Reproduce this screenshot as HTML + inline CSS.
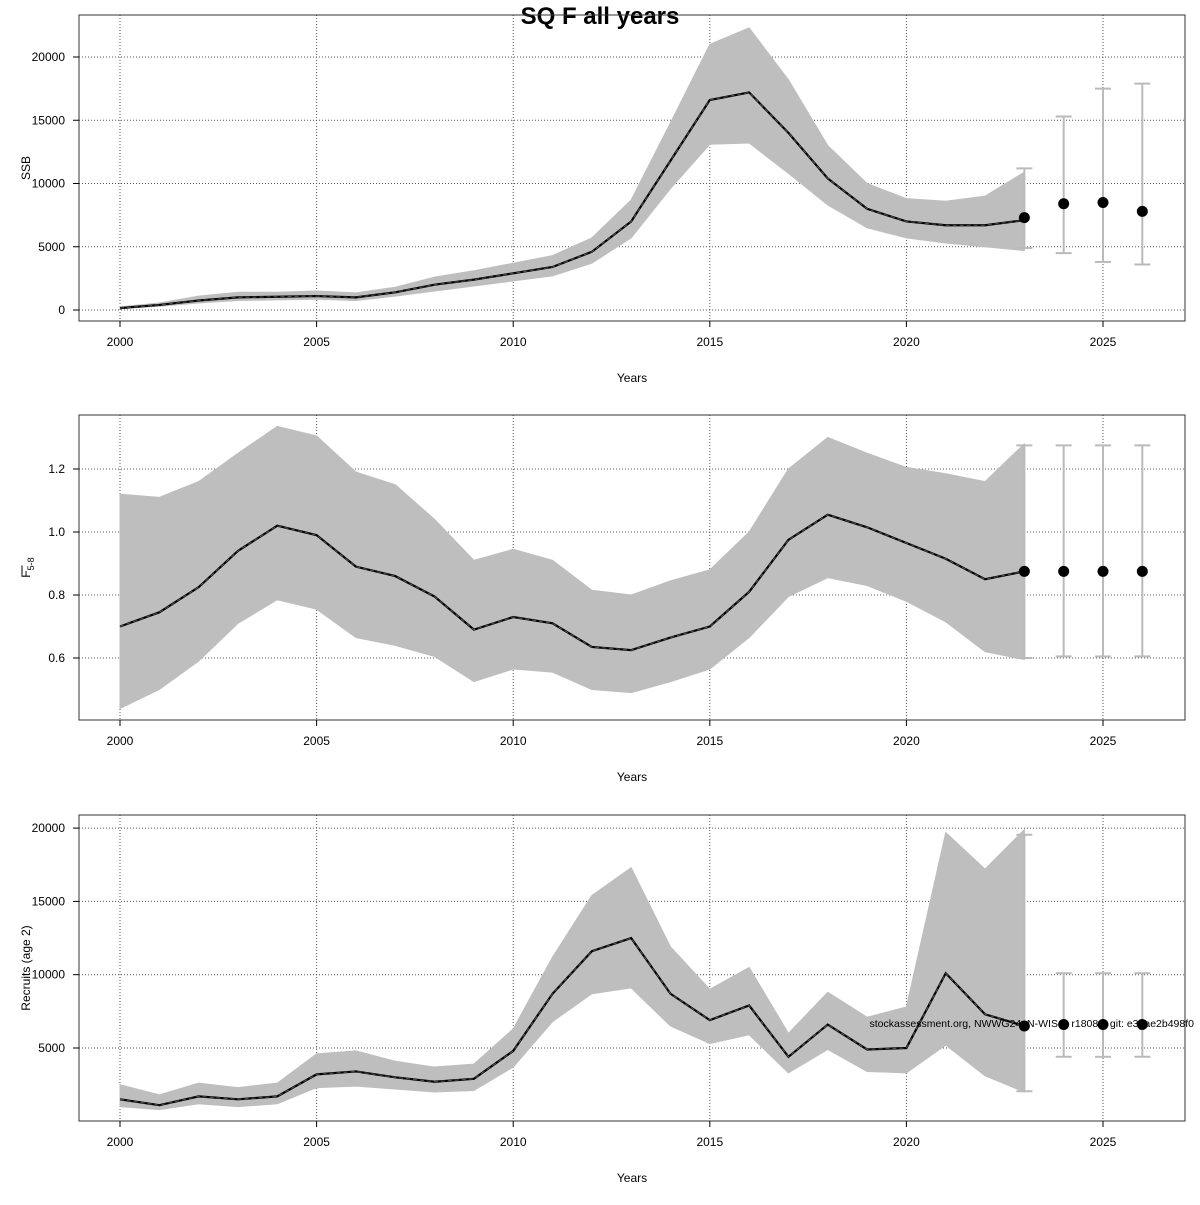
<!DOCTYPE html>
<html><head><meta charset="utf-8"><style>
body{margin:0;background:#fff}
svg text{font-family:"Liberation Sans",Arial,sans-serif;fill:#000}
</style></head><body>
<svg id="chart" width="1200" height="1200" viewBox="0 0 1200 1200" xmlns="http://www.w3.org/2000/svg">
<text x="600" y="24" text-anchor="middle" font-size="24" font-weight="bold">SQ F all years</text>
</svg>
<script>
const years=[2000,2001,2002,2003,2004,2005,2006,2007,2008,2009,2010,2011,2012,2013,2014,2015,2016,2017,2018,2019,2020,2021,2022,2023];
const fcYears=[2023,2024,2025,2026];
const ssb=[150,400,750,1000,1050,1100,1000,1400,2000,2400,2900,3400,4600,7000,11800,16600,17200,14000,10400,8000,7000,6700,6700,7100];
const ssbHi=[250,550,1100,1400,1400,1500,1350,1800,2600,3100,3700,4300,5700,8700,14800,21000,22300,18200,13000,10000,8800,8600,9000,10900];
const ssbLo=[100,300,550,750,800,850,750,1100,1500,1900,2300,2700,3700,5700,9600,13100,13200,10800,8300,6500,5700,5300,5000,4700];
const ssbFc=[7300,8400,8500,7800];
const ssbFcLo=[4900,4500,3800,3600];
const ssbFcHi=[11200,15300,17500,17900];
const fbar=[0.70,0.745,0.825,0.94,1.02,0.99,0.89,0.86,0.795,0.69,0.73,0.71,0.635,0.625,0.665,0.70,0.81,0.975,1.055,1.015,0.965,0.915,0.85,0.875];
const fHi=[1.12,1.11,1.16,1.25,1.335,1.305,1.19,1.15,1.04,0.91,0.945,0.91,0.815,0.80,0.845,0.88,1.0,1.20,1.30,1.25,1.205,1.185,1.16,1.28];
const fLo=[0.44,0.50,0.59,0.71,0.785,0.755,0.665,0.64,0.605,0.525,0.565,0.555,0.50,0.49,0.525,0.565,0.665,0.795,0.855,0.83,0.78,0.715,0.62,0.595];
const fFc=[0.875,0.875,0.875,0.875];
const fFcLo=[0.60,0.605,0.605,0.605];
const fFcHi=[1.275,1.275,1.275,1.275];
const rec=[1500,1100,1700,1500,1700,3200,3400,3000,2700,2900,4800,8700,11600,12500,8700,6900,7900,4400,6600,4900,5000,10100,7300,6500];
const recHi=[2500,1800,2600,2300,2600,4600,4800,4100,3700,3900,6300,11200,15400,17300,11900,9000,10500,6000,8800,7100,7800,19700,17200,19900];
const recLo=[1000,800,1200,1000,1200,2300,2400,2200,2000,2100,3700,6800,8700,9100,6500,5300,5900,3300,4900,3400,3300,5200,3100,2000];
const recFc=[6500,6600,6600,6600];
const recFcLo=[2050,4400,4400,4400];
const recFcHi=[19550,10100,10100,10100];
const xTicks=[2000,2005,2010,2015,2020,2025];
const ssbTicks=[0,5000,10000,15000,20000];
const fTicks=[0.6,0.8,1.0,1.2];
const fTickLabels=["0.6","0.8","1.0","1.2"];
const recTicks=[5000,10000,15000,20000];

const NS="http://www.w3.org/2000/svg";
const svg=document.getElementById('chart');
function mk(tag,attrs,parent){const e=document.createElementNS(NS,tag);for(const k in attrs)e.setAttribute(k,attrs[k]);(parent||svg).appendChild(e);return e;}
const xS=y=>120+(y-2000)*39.32;
const L=79,R=1185;

function panel(cfg){
  const g=mk('g',{});
  
  
  const yS=cfg.yS;
  xTicks.forEach(t=>{const l=mk('line',{x1:xS(t),x2:xS(t),y1:cfg.top,y2:cfg.bot,stroke:'#555','stroke-dasharray':'1,2','stroke-width':1},g);
    });
  cfg.ticks.forEach(t=>{const l=mk('line',{x1:L,x2:R,y1:yS(t),y2:yS(t),stroke:'#555','stroke-dasharray':'1,2','stroke-width':1},g);
    });
  let pts=years.map((y,i)=>xS(y)+','+yS(cfg.hi[i]));
  for(let i=years.length-1;i>=0;i--)pts.push(xS(years[i])+','+yS(cfg.lo[i]));
  const band=mk('polygon',{points:pts.join(' '),fill:'#bebebe',stroke:'#bebebe','stroke-width':1},g);
  
  fcYears.forEach((y,i)=>{
    const x=xS(y),y1=yS(cfg.fcLo[i]),y2=yS(cfg.fcHi[i]);
    const eb=mk('g',{stroke:'#bababa','stroke-width':2},g);
    
    mk('line',{x1:x,x2:x,y1:y1,y2:y2},eb);
    mk('line',{x1:x-8,x2:x+8,y1:y1,y2:y1},eb);
    mk('line',{x1:x-8,x2:x+8,y1:y2,y2:y2},eb);
  });
  const d=years.map((y,i)=>(i?'L':'M')+xS(y)+','+yS(cfg.v[i])).join(' ');
  const ln=mk('path',{d:d,fill:'none',stroke:'#000','stroke-width':2.2},g);
  
  mk('path',{d:d,fill:'none',stroke:'#555','stroke-width':1,'stroke-dasharray':'4,3'},g);
  fcYears.forEach((y,i)=>{const c=mk('circle',{cx:xS(y),cy:yS(cfg.fc[i]),r:5.5,fill:'#000'},g);
    });
  const b=mk('rect',{x:L,y:cfg.top,width:R-L,height:cfg.bot-cfg.top,fill:'none',stroke:'#333','stroke-width':1},g);
  
  xTicks.forEach(t=>{mk('line',{x1:xS(t),x2:xS(t),y1:cfg.bot,y2:cfg.bot+6,stroke:'#000'},g);
    const tx=mk('text',{x:xS(t),y:cfg.bot+25,'text-anchor':'middle','font-size':12},g);tx.textContent=t;
    });
  cfg.ticks.forEach((t,i)=>{mk('line',{x1:L-6,x2:L,y1:yS(t),y2:yS(t),stroke:'#000'},g);
    const tx=mk('text',{x:L-14,y:yS(t)+4,'text-anchor':'end','font-size':12},g);tx.textContent=cfg.tickLabels?cfg.tickLabels[i]:t;
    });
  const xt=mk('text',{x:632,y:cfg.bot+61,'text-anchor':'middle','font-size':12},g);xt.textContent='Years';
  
  const cy=(cfg.top+cfg.bot)/2;
  const yt=mk('text',{x:30,y:cy,'text-anchor':'middle','font-size':12,transform:'rotate(-90 30 '+cy+')'},g);
  
  if(cfg.fLabel){
    yt.textContent='F';
    const s=mk('tspan',{'font-size':9,dy:4},yt);s.textContent='5-8';
    mk('line',{x1:22,x2:22,y1:cy-2,y2:cy+6,stroke:'#000','stroke-width':1},g);
  } else yt.textContent=cfg.ylab;
}
panel({name:'ssb',top:15,bot:321,yS:v=>310-v*253/20000,ticks:ssbTicks,v:ssb,hi:ssbHi,lo:ssbLo,fc:ssbFc,fcLo:ssbFcLo,fcHi:ssbFcHi,ylab:'SSB'});
panel({name:'fbar',top:415,bot:720,yS:v=>658-(v-0.6)*315,ticks:fTicks,tickLabels:fTickLabels,v:fbar,hi:fHi,lo:fLo,fc:fFc,fcLo:fFcLo,fcHi:fFcHi,fLabel:true});
panel({name:'recruits',top:815,bot:1121,yS:v=>1121.3-v*0.01466,ticks:recTicks,v:rec,hi:recHi,lo:recLo,fc:recFc,fcLo:recFcLo,fcHi:recFcHi,ylab:'Recruits (age 2)'});
const wm=mk('text',{x:1194,y:1027,'text-anchor':'end','font-size':10.5});
wm.textContent='stockassessment.org, NWWG24, N-WISC, r18081, git: e38ae2b498f0';


</script>
</body></html>
